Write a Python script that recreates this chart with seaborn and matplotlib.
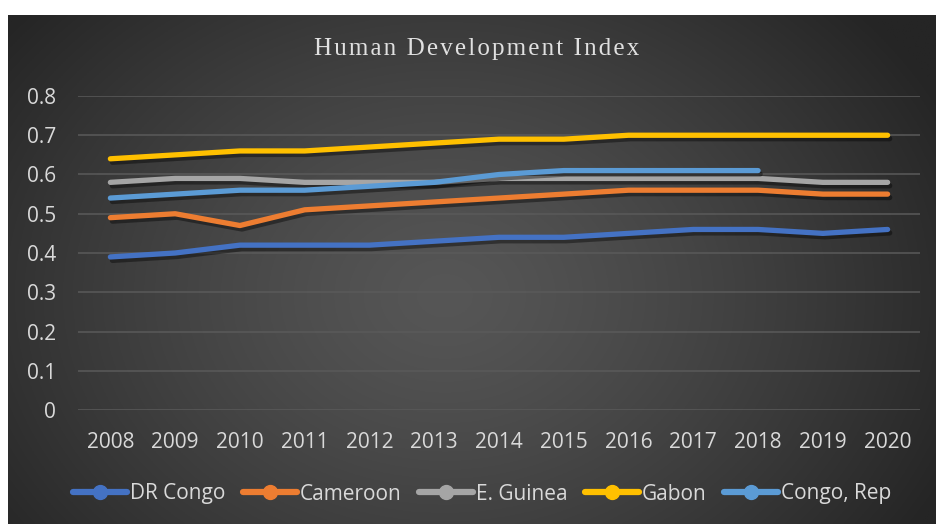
import numpy as np
import pandas as pd
import matplotlib
matplotlib.use("Agg")
import matplotlib.pyplot as plt
import matplotlib.patheffects as pe
from matplotlib.lines import Line2D
import seaborn as sns

years = ["2008", "2009", "2010", "2011", "2012", "2013", "2014",
         "2015", "2016", "2017", "2018", "2019", "2020"]
dr_congo = [0.39, 0.40, 0.42, 0.42, 0.42, 0.43, 0.44, 0.44, 0.45, 0.46, 0.46, 0.45, 0.46]
cameroon = [0.49, 0.50, 0.47, 0.51, 0.52, 0.53, 0.54, 0.55, 0.56, 0.56, 0.56, 0.55, 0.55]
e_guinea = [0.58, 0.59, 0.59, 0.58, 0.58, 0.58, 0.59, 0.59, 0.59, 0.59, 0.59, 0.58, 0.58]
gabon = [0.64, 0.65, 0.66, 0.66, 0.67, 0.68, 0.69, 0.69, 0.70, 0.70, 0.70, 0.70, 0.70]
congo_rep = [0.54, 0.55, 0.56, 0.56, 0.57, 0.58, 0.60, 0.61, 0.61, 0.61, 0.61, np.nan, np.nan]

countries = ["DR Congo", "Cameroon", "E. Guinea", "Gabon", "Congo, Rep"]
series = [dr_congo, cameroon, e_guinea, gabon, congo_rep]
colors = ["#4472C4", "#ED7D31", "#A5A5A5", "#FFC000", "#5B9BD5"]

rows = []
for name, vals in zip(countries, series):
    for i, v in enumerate(vals):
        rows.append({"pos": i, "year": years[i], "country": name, "hdi": v})
df = pd.DataFrame(rows)

sns.set_theme(style="dark")
plt.rcParams["font.family"] = ["Open Sans", "DejaVu Sans"]

W, H = 936, 524
fig = plt.figure(figsize=(W / 100, H / 100), dpi=100)
fig.patch.set_facecolor("white")

# dark panel with a soft radial gradient
bg = fig.add_axes([8 / W, 0, 1 - 8 / W, 1 - 15 / H], zorder=0)
ny, nx = 300, 540
yy, xx = np.mgrid[0:ny, 0:nx]
cx, cy = nx * 0.47, ny * 0.55
r = np.sqrt(((xx - cx) / (nx * 0.60)) ** 2 + ((yy - cy) / (ny * 0.85)) ** 2)
r = np.clip(r, 0, 1)
shade = 0x56 / 255 * (1 - r ** 1.3) + 0x25 / 255 * (r ** 1.3)
bg.imshow(np.dstack([shade, shade, shade]), aspect="auto", extent=[0, 1, 0, 1])
bg.set_axis_off()

ax = fig.add_axes([78 / W, 1 - 410 / H, (920 - 78) / W, (410 - 96) / H], zorder=1)
ax.patch.set_alpha(0)

sns.lineplot(data=df, x="pos", y="hdi", hue="country", hue_order=countries,
             palette=colors, linewidth=3.8, ax=ax, legend=False, sort=False,
             markers=False, errorbar=None)
for ln in ax.get_lines():
    ln.set_marker("")
    ln.set_solid_capstyle("round")
    ln.set_path_effects([pe.SimpleLineShadow(offset=(1.5, -2.5), shadow_color="black", alpha=0.4),
                         pe.Normal()])

ax.set_xlim(-0.5, len(years) - 0.5)
ax.set_ylim(0, 0.8)
ax.set_xticks(range(len(years)))
ax.set_xticklabels(years)
ax.set_yticks(np.arange(0, 0.81, 0.1))
ax.set_yticklabels(["0", "0.1", "0.2", "0.3", "0.4", "0.5", "0.6", "0.7", "0.8"])
ax.grid(axis="y", color="#5a5a5a", linewidth=1.1)
ax.grid(axis="x", visible=False)
ax.set_axisbelow(True)
for s in ax.spines.values():
    s.set_visible(False)
ax.tick_params(axis="both", length=0, colors="#D9D9D9", labelsize=15)
ax.tick_params(axis="y", pad=16)
ax.tick_params(axis="x", pad=16)
ax.set_xlabel("")
ax.set_ylabel("")

# letter-spaced title
title = "\u200a \u200a".join("\u200a".join(list(w)) for w in "Human Development Index".split())
fig.text(477 / W, 1 - 49 / H, title, ha="center", va="center", color="#E0E0E0",
         fontsize=18, family=["Liberation Serif", "DejaVu Serif"])

handles = [Line2D([0], [0], color=c, linewidth=4.5, marker="o", markersize=10,
                  solid_capstyle="round") for c in colors]
leg = fig.legend(handles, countries, loc="center", bbox_to_anchor=(482 / W, 1 - 494 / H),
                 ncol=5, frameon=False, handlelength=2.6, handletextpad=0.12,
                 columnspacing=0.85, fontsize=15)
for t in leg.get_texts():
    t.set_color("#D9D9D9")

fig.savefig("out.png", dpi=100, facecolor="white")
